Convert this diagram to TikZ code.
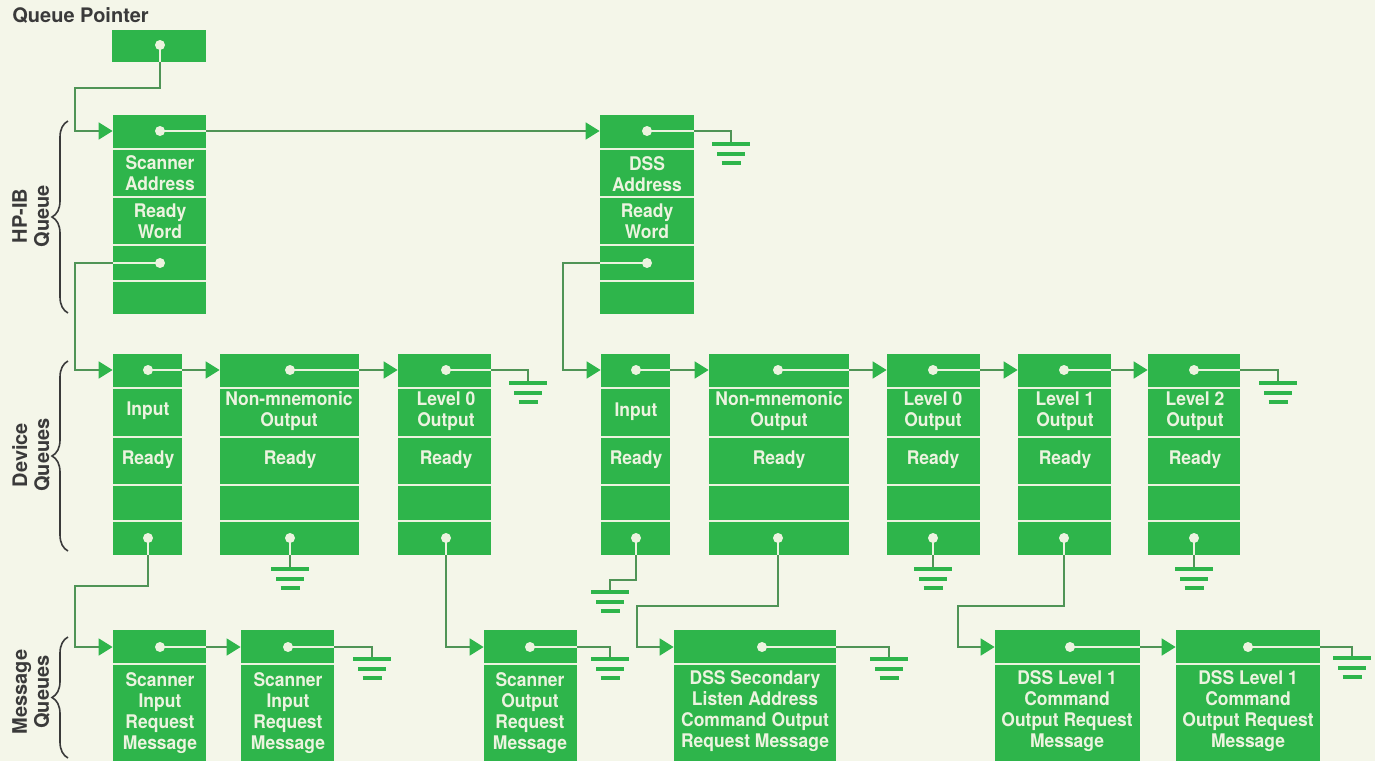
\documentclass[tikz,border=0pt]{standalone}
\usepackage{fontspec}
\setmainfont{TeX Gyre Heros}
\newfontfamily\boxfont[FakeStretch=0.93]{TeX Gyre Heros}
\usetikzlibrary{arrows.meta,fit,decorations.pathreplacing}
\definecolor{bgc}{HTML}{F4F6E9}
\definecolor{qgreen}{HTML}{2EB54B}
\definecolor{qlight}{HTML}{ECF3DF}
\definecolor{qline}{HTML}{4F9456}
\definecolor{qgray}{HTML}{3A3A3A}
\newcommand\qqbox[6]{%
  \node[qbox, fit={(#2,#3) (#4,#5)}] (#1) {};
  \foreach \s in {#6} {\draw[sepl] (#2,\s) -- (#4,\s);}
}
\begin{document}
\begin{tikzpicture}[x=0.5pt,y=-0.5pt,
  qbox/.style={fill=qgreen, inner sep=0pt, draw=none},
  sepl/.style={draw=qlight, line width=0.9pt},
  dot/.style={circle, fill=qlight, inner sep=0pt, minimum size=5pt},
  inl/.style={draw=qlight, line width=0.9pt},
  con/.style={draw=qline, line width=0.9pt},
  arr/.style={con, -{Triangle[length=7pt,width=8.5pt,color=qgreen]}},
  txt/.style={text=qlight, font=\boxfont\bfseries\fontsize{9.4}{10.6}\selectfont, align=center, inner sep=0pt},
  lab/.style={text=qgray, font=\bfseries\fontsize{10}{11}\selectfont, align=center, inner sep=0pt},
  brc/.style={draw=qgray, line width=0.8pt, decorate, decoration={brace, amplitude=8pt}},
  gnd/.pic={\draw[qgreen, line width=2pt] (-19,0) -- (19,0) (-14,9.5) -- (14,9.5) (-9.5,19) -- (9.5,19);}
]
\fill[bgc] (0,0) rectangle (1375,761);
\useasboundingbox (0,0) rectangle (1375,761);

% labels and braces
\node[lab, anchor=west] (lqp) at (12,15) {Queue Pointer};
\node[lab, rotate=90] (lhp) at (31,216) {HP-IB\\Queue};
\node[lab, rotate=90] (ldq) at (31,455) {Device\\Queues};
\node[lab, rotate=90] (lmq) at (31,692) {Message\\Queues};
\draw[brc] (68,313) -- (68,121);
\draw[brc] (68,551) -- (68,361);
\draw[brc] (68,758) -- (68,637);

% boxes
\qqbox{qp}{112}{30}{206}{62}{}
\qqbox{hp}{113}{115}{206}{314}{149,197,245,281}
\qqbox{ds}{600}{115}{694}{314}{149,197,245,281}
\qqbox{i1}{113}{354}{182}{555}{388,437,485,521}
\qqbox{n1}{220}{354}{359}{555}{388,437,485,521}
\qqbox{l01}{398}{354}{491}{555}{388,437,485,521}
\qqbox{i2}{601}{354}{670}{555}{388,437,485,521}
\qqbox{n2}{709}{354}{849}{555}{388,437,485,521}
\qqbox{l02}{887}{354}{980}{555}{388,437,485,521}
\qqbox{l1}{1018}{354}{1111}{555}{388,437,485,521}
\qqbox{l2}{1148}{354}{1240}{555}{388,437,485,521}
\qqbox{m1}{113}{630}{206}{761}{664}
\qqbox{m2}{241}{630}{334}{761}{664}
\qqbox{m3}{484}{630}{577}{761}{664}
\qqbox{m4}{674}{630}{836}{761}{664}
\qqbox{m5}{995}{630}{1140}{761}{664}
\qqbox{m6}{1176}{630}{1320}{761}{664}

% texts
\node[txt] (t1) at (160,173) {Scanner\\Address};
\node[txt] (t2) at (160,221) {Ready\\Word};
\node[txt] (t3) at (647,174) {DSS\\Address};
\node[txt] (t4) at (647,221) {Ready\\Word};
\node[txt] (t5) at (148,411) {Input};
\node[txt] (t6) at (148,460) {Ready};
\node[txt] (t7) at (289,411) {Non-mnemonic\\Output};
\node[txt] (t8) at (290,460) {Ready};
\node[txt] (t9) at (446,411) {Level 0\\Output};
\node[txt] (t10) at (446,460) {Ready};
\node[txt] (t11) at (636,412) {Input};
\node[txt] (t12) at (636,460) {Ready};
\node[txt] (t13) at (779,411) {Non-mnemonic\\Output};
\node[txt] (t14) at (779,460) {Ready};
\node[txt] (t15) at (933,411) {Level 0\\Output};
\node[txt] (t16) at (933,460) {Ready};
\node[txt] (t17) at (1065,411) {Level 1\\Output};
\node[txt] (t18) at (1065,460) {Ready};
\node[txt] (t19) at (1195,411) {Level 2\\Output};
\node[txt] (t20) at (1195,460) {Ready};
\node[txt] (t21) at (160,713) {Scanner\\Input\\Request\\Message};
\node[txt] (t22) at (288,713) {Scanner\\Input\\Request\\Message};
\node[txt] (t23) at (530,713) {Scanner\\Output\\Request\\Message};
\node[txt] (t24) at (755,711) {DSS Secondary\\Listen Address\\Command Output\\Request Message};
\node[txt] (t25) at (1067,711) {DSS Level 1\\Command\\Output Request\\Message};
\node[txt] (t26) at (1248,711) {DSS Level 1\\Command\\Output Request\\Message};

% dots
\node[dot] (qpa) at (160,45) {};
\node[dot] (hpA) at (160,131) {};
\node[dot] (hpB) at (160,263) {};
\node[dot] (dsA) at (647,131) {};
\node[dot] (dsB) at (647,263) {};
\node[dot] (i1a) at (148,370) {};
\node[dot] (i1b) at (148,538) {};
\node[dot] (n1a) at (290,370) {};
\node[dot] (n1b) at (290,538) {};
\node[dot] (l01a) at (446,370) {};
\node[dot] (l01b) at (446,538) {};
\node[dot] (i2a) at (636,370) {};
\node[dot] (i2b) at (636,538) {};
\node[dot] (n2a) at (778,370) {};
\node[dot] (n2b) at (778,538) {};
\node[dot] (l02a) at (933,370) {};
\node[dot] (l02b) at (933,538) {};
\node[dot] (l1a) at (1064,370) {};
\node[dot] (l1b) at (1064,538) {};
\node[dot] (l2a) at (1194,370) {};
\node[dot] (l2b) at (1194,538) {};
\node[dot] (m1a) at (160,647) {};
\node[dot] (m2a) at (288,647) {};
\node[dot] (m3a) at (530,647) {};
\node[dot] (m4a) at (762,647) {};
\node[dot] (m5a) at (1070,647) {};
\node[dot] (m6a) at (1248,647) {};

% bend and ground coordinates
\coordinate (c1) at (75,88);
\coordinate (c2) at (75,263);
\coordinate (c3) at (563,263);
\coordinate (c4) at (75,586);
\coordinate (c5) at (610,580);
\coordinate (c6) at (637,606);
\coordinate (c7) at (958,606);
\coordinate (g1) at (731,144);
\coordinate (g2) at (528,383);
\coordinate (g3) at (290,569);
\coordinate (g4) at (610,592);
\coordinate (g5) at (933,569);
\coordinate (g6) at (1194,569);
\coordinate (g7) at (1278,383);
\coordinate (g8) at (372,659);
\coordinate (g9) at (610,659);
\coordinate (g10) at (889,659);
\coordinate (g11) at (1352,658);

% connectors: queue pointer and HP-IB queue
\draw[inl] (qpa.center) -- (qpa |- qp.south);
\draw[arr] (qpa |- qp.south) |- (c1) |- (hpA -| hp.west);
\draw[inl] (hpA.center) -- (hpA -| hp.east);
\draw[arr] (hpA -| hp.east) -- (hpA -| ds.west);
\draw[inl] (dsA.center) -- (dsA -| ds.east);
\draw[con] (dsA -| ds.east) -| (g1);
\draw[inl] (hpB.center) -- (hpB -| hp.west);
\draw[arr] (hpB -| hp.west) -- (c2) |- (i1a -| i1.west);
\draw[inl] (dsB.center) -- (dsB -| ds.west);
\draw[arr] (dsB -| ds.west) -- (c3) |- (i2a -| i2.west);

% device queues, top links
\draw[inl] (i1a.center) -- (i1a -| i1.east);
\draw[arr] (i1a -| i1.east) -- (i1a -| n1.west);
\draw[inl] (n1a.center) -- (n1a -| n1.east);
\draw[arr] (n1a -| n1.east) -- (n1a -| l01.west);
\draw[inl] (l01a.center) -- (l01a -| l01.east);
\draw[con] (l01a -| l01.east) -| (g2);
\draw[inl] (i2a.center) -- (i2a -| i2.east);
\draw[arr] (i2a -| i2.east) -- (i2a -| n2.west);
\draw[inl] (n2a.center) -- (n2a -| n2.east);
\draw[arr] (n2a -| n2.east) -- (n2a -| l02.west);
\draw[inl] (l02a.center) -- (l02a -| l02.east);
\draw[arr] (l02a -| l02.east) -- (l02a -| l1.west);
\draw[inl] (l1a.center) -- (l1a -| l1.east);
\draw[arr] (l1a -| l1.east) -- (l1a -| l2.west);
\draw[inl] (l2a.center) -- (l2a -| l2.east);
\draw[con] (l2a -| l2.east) -| (g7);

% device queues, bottom links
\foreach \d in {i1b,n1b,l01b,i2b,n2b,l02b,l1b,l2b} {\draw[inl] (\d.center) -- ++(0,17);}
\draw[arr] (i1b |- i1.south) |- (c4) |- (m1a -| m1.west);
\draw[con] (n1b |- n1.south) -- (g3);
\draw[arr] (l01b |- l01.south) |- (m3a -| m3.west);
\draw[con] (i2b |- i2.south) |- (c5) -- (g4);
\draw[arr] (n2b |- n2.south) |- (c6) |- (m4a -| m4.west);
\draw[con] (l02b |- l02.south) -- (g5);
\draw[arr] (l1b |- l1.south) |- (c7) |- (m5a -| m5.west);
\draw[con] (l2b |- l2.south) -- (g6);

% message queues
\draw[inl] (m1a.center) -- (m1a -| m1.east);
\draw[arr] (m1a -| m1.east) -- (m1a -| m2.west);
\draw[inl] (m2a.center) -- (m2a -| m2.east);
\draw[con] (m2a -| m2.east) -| (g8);
\draw[inl] (m3a.center) -- (m3a -| m3.east);
\draw[con] (m3a -| m3.east) -| (g9);
\draw[inl] (m4a.center) -- (m4a -| m4.east);
\draw[con] (m4a -| m4.east) -| (g10);
\draw[inl] (m5a.center) -- (m5a -| m5.east);
\draw[arr] (m5a -| m5.east) -- (m5a -| m6.west);
\draw[inl] (m6a.center) -- (m6a -| m6.east);
\draw[con] (m6a -| m6.east) -| (g11);

% grounds
\foreach \g in {g1,g2,g3,g4,g5,g6,g7,g8,g9,g10,g11} {\pic at (\g) {gnd};}
\end{tikzpicture}
\end{document}
